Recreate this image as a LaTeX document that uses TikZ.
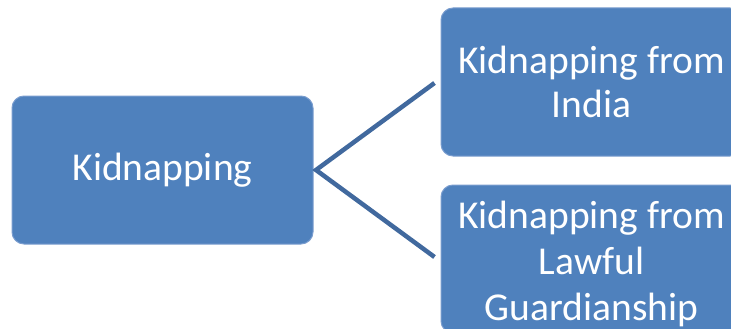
\documentclass[tikz,border=0pt]{standalone}
\usepackage{fontspec}
\setmainfont{Carlito}
\usetikzlibrary{calc}
\definecolor{boxfill}{HTML}{4F81BD}
\definecolor{boxedge}{HTML}{7A9DCF}
\definecolor{linkcol}{HTML}{41699E}
\begin{document}
\begin{tikzpicture}[x=1pt,y=-1pt,
  box/.style={draw=boxedge, line width=1pt, fill=boxfill, rounded corners=12pt,
    minimum width=301pt, minimum height=148pt, inner sep=0pt, text=white,
    align=center, font=\fontsize{39.5}{44}\selectfont},
  link/.style={draw=linkcol, line width=4.5pt, line join=miter}]
\useasboundingbox (0,0) rectangle (731,329);
\clip (0,0) rectangle (731,329);
\node[box] (kid) at (162.5,170) {Kidnapping};
\node[box] (india) at (591.5,82) {Kidnapping from\\India};
\node[box] (lawful) at (591.5,259) {};
\node[text=white, align=center, font=\fontsize{39.5}{46}\selectfont, inner sep=0pt] (lawfultext) at (591.5,264) {Kidnapping from\\Lawful\\Guardianship};
\coordinate (v) at ($(kid.east)+(2.5,0)$);
\coordinate (a) at ($(india.west)+(-6,1)$);
\coordinate (b) at ($(lawful.west)+(-6,-2)$);
\draw[link] (a) -- (v) -- (b);
\end{tikzpicture}
\end{document}
